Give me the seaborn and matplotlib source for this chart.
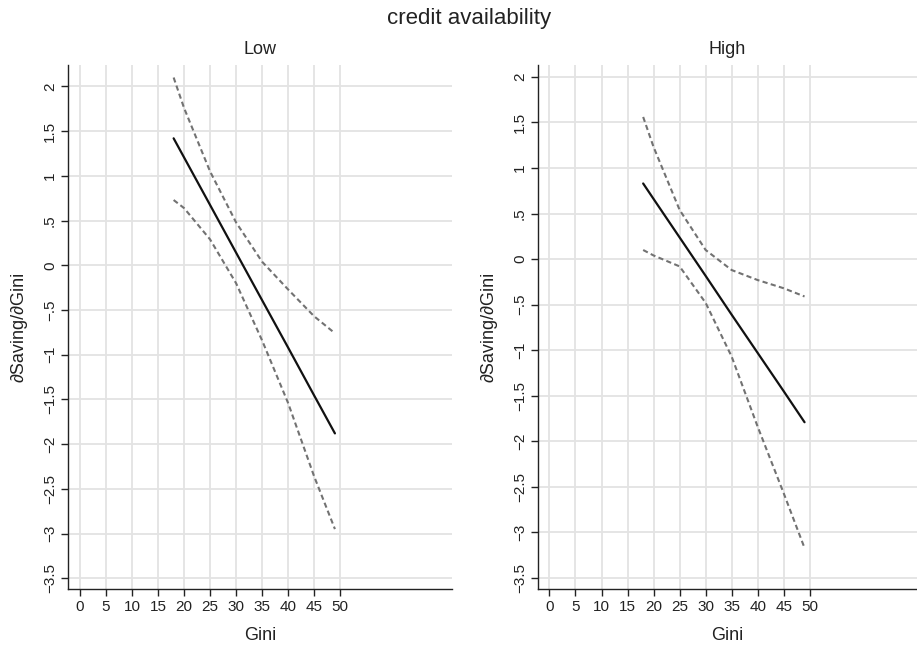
import matplotlib
matplotlib.use("Agg")
import matplotlib.pyplot as plt
import seaborn as sns
import pandas as pd

# ---- data ----
panels = ["Low", "High"]

gini = [18, 20, 25, 30, 35, 40, 45, 49]

low_est = [1.42, 1.207, 0.675, 0.142, -0.39, -0.92, -1.455, -1.88]
low_upper = [2.10, 1.76, 1.05, 0.48, 0.04, -0.27, -0.57, -0.76]
low_lower = [0.73, 0.64, 0.29, -0.20, -0.84, -1.54, -2.36, -2.95]

high_est = [0.83, 0.66, 0.238, -0.184, -0.61, -1.03, -1.45, -1.79]
high_upper = [1.56, 1.23, 0.54, 0.10, -0.12, -0.23, -0.32, -0.41]
high_lower = [0.10, 0.04, -0.08, -0.48, -1.07, -1.84, -2.57, -3.17]

xticks = [0, 5, 10, 15, 20, 25, 30, 35, 40, 45, 50]
yticks = [2, 1.5, 1, 0.5, 0, -0.5, -1, -1.5, -2, -2.5, -3, -3.5]
yticklabels = ["2", "1.5", "1", ".5", "0", "\u2212.5", "\u22121", "\u22121.5",
               "\u22122", "\u22122.5", "\u22123", "\u22123.5"]

title = "credit availability"
xlabel = "Gini"
ylabel = "\u2202Saving/\u2202Gini"

# ---- style ----
sns.set_theme(style="white")
plt.rcParams["font.family"] = ["Liberation Sans", "DejaVu Sans"]

fig = plt.figure(figsize=(9.17, 6.49), dpi=100)
W, H = 917, 649

def px_axes(x0, x1, y0, y1):
    return fig.add_axes([x0 / W, 1 - y1 / H, (x1 - x0) / W, (y1 - y0) / H])

ax_low = px_axes(68, 452, 65, 589)
ax_high = px_axes(538, 917, 65, 589)

series = {
    "Low": (low_est, low_upper, low_lower),
    "High": (high_est, high_upper, high_lower),
}
limits = {
    "Low": ((-2.3, 71.5), (-3.62, 2.24)),
    "High": ((-2.2, 70.6), (-3.62, 2.13)),
}

for ax, name in zip([ax_low, ax_high], panels):
    est, up, lo = series[name]
    df = pd.DataFrame({"Gini": gini, "est": est, "up": up, "lo": lo})
    sns.lineplot(data=df, x="Gini", y="up", ax=ax, color="#727272",
                 linewidth=1.5, zorder=3)
    sns.lineplot(data=df, x="Gini", y="lo", ax=ax, color="#727272",
                 linewidth=1.5, zorder=3)
    for ln in ax.lines:
        ln.set_linestyle((0, (2.5, 1.6)))
    sns.lineplot(data=df, x="Gini", y="est", ax=ax, color="#111111",
                 linewidth=1.6, zorder=4)

    xl, yl = limits[name]
    ax.set_xlim(*xl)
    ax.set_ylim(*yl)
    ax.set_xticks(xticks)
    ax.set_xticklabels([str(t) for t in xticks])
    ax.set_yticks(yticks)
    ax.set_yticklabels(yticklabels, rotation=90, va="center")
    ax.grid(True, color="#e3e3e3", linewidth=1.3, zorder=0)
    ax.set_axisbelow(True)
    for s in ["top", "right"]:
        ax.spines[s].set_visible(False)
    for s in ["left", "bottom"]:
        ax.spines[s].set_color("#222222")
        ax.spines[s].set_linewidth(1.0)
    ax.tick_params(axis="both", direction="out", length=5, width=1.0,
                   color="#222222", labelcolor="#222222", labelsize=11,
                   left=True, bottom=True, pad=3)
    ax.set_xlabel(xlabel, fontsize=13, color="#222222", labelpad=9)
    ax.set_ylabel(ylabel, fontsize=13, color="#222222", labelpad=11)
    ax.set_title(name, fontsize=13, color="#222222", pad=8)

fig.text(0.512, 0.972, title, ha="center", va="center", fontsize=16,
         color="#222222")

fig.savefig("out.png", dpi=100)
